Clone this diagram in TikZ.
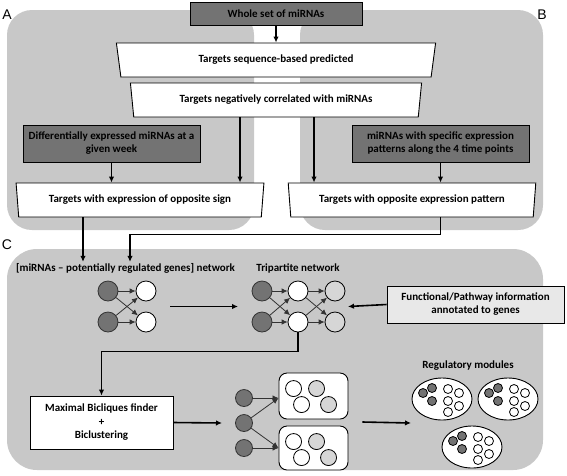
\documentclass[tikz,border=0pt]{standalone}
\usepackage{fontspec}
\setmainfont{Carlito}
\newfontfamily\labfont{Liberation Sans}
\usetikzlibrary{arrows.meta,shapes.geometric,calc}
\definecolor{panelgray}{RGB}{200,200,200}
\definecolor{boxgray}{RGB}{115,115,115}
\definecolor{dotgray}{RGB}{214,214,214}
\definecolor{funcgray}{RGB}{232,232,232}
\definecolor{edgegray}{RGB}{50,50,50}
\begin{document}
\begin{tikzpicture}[x=1pt,y=-1pt,
  txt/.style={font=\fontsize{11}{13}\selectfont\bfseries},
  panel/.style={fill=panelgray,draw=none,rounded corners=25pt},
  darkbox/.style={txt,draw=black,line width=0.9pt,fill=boxgray,align=center,inner sep=0pt},
  whitebox/.style={txt,draw=black,line width=0.9pt,fill=white,align=center,inner sep=0pt},
  trap/.style={txt,draw=black,line width=0.9pt,fill=white,trapezium,shape border rotate=180,trapezium stretches=true,inner sep=0pt},
  conn/.style={line width=1.6pt,-{Latex[length=6pt,width=5.5pt]}},
  netedge/.style={line width=0.8pt,draw=edgegray,-{Latex[length=6pt,width=5.5pt]}},
  mir/.style={circle,draw=black!80,line width=0.8pt,fill=boxgray,minimum size=20pt,inner sep=0pt},
  gene/.style={circle,draw=black,line width=0.8pt,fill=white,minimum size=20pt,inner sep=0pt},
  ann/.style={circle,draw=black,line width=0.8pt,fill=dotgray,minimum size=20pt,inner sep=0pt},
  letter/.style={font=\labfont\fontsize{14}{14}\selectfont,inner sep=0pt},
  module/.style={ellipse,draw=black,line width=0.9pt,fill=white,minimum width=60pt,minimum height=42pt,inner sep=0pt},
  bic/.style={rectangle,rounded corners=8pt,draw=black,line width=0.9pt,fill=white,minimum width=69pt,inner sep=0pt},
]
\useasboundingbox (0,0) rectangle (567,475);
\fill[white] (0,0) rectangle (567,475);

% panels
\fill[panel] (7,10) rectangle (254,230);
\fill[panel] (300,10) rectangle (543,230);
\fill[panel,rounded corners=30pt] (7,249) rectangle (543,470);

\node[letter] (labA) at (7,15) {A};
\node[letter] (labB) at (542,15) {B};
\node[letter] (labC) at (7,245) {C};

% top part
\node[darkbox,minimum width=172pt,minimum height=23pt] (whole) at (276,13.5) {Whole set of miRNAs};
\node[trap,minimum width=320pt,minimum height=34pt,trapezium angle=76.8] (t1) at (276,60) {Targets sequence-based predicted};
\node[trap,minimum width=292pt,minimum height=34pt,trapezium angle=76.8] (t2) at (276,100) {Targets negatively correlated with miRNAs};
\node[darkbox,minimum width=177pt,minimum height=37pt] (b1) at (111.5,143.5) {Differentially expressed miRNAs at a\\given week};
\node[darkbox,minimum width=177pt,minimum height=37pt] (b2) at (440.5,143.5) {miRNAs with specific expression\\patterns along the 4 time points};
\node[trap,minimum width=248pt,minimum height=34pt,trapezium angle=78.4] (t3) at (140,200) {Targets with expression of opposite sign};
\node[trap,minimum width=248pt,minimum height=34pt,trapezium angle=78.4] (t4) at (412,200) {Targets with opposite expression pattern};

\coordinate (xa) at (240,0);
\coordinate (xb) at (314,0);
\coordinate (xl) at (83,0);
\coordinate (xr) at (130,0);

\draw[conn] (whole.south) -- (whole.south |- t1.north);
\draw[conn] (t2.south -| xa) -- (t3.north -| xa);
\draw[conn] (t2.south -| xb) -- (t4.north -| xb);
\draw[conn] (b1.south) -- (b1.south |- t3.north);
\draw[conn] (b2.south) -- (b2.south |- t4.north);

% panel C
\node[txt,inner sep=1pt] (lab1) at (125.5,268) {[miRNAs -- potentially regulated genes] network};
\node[txt,inner sep=1pt] (lab2) at (298,268) {Tripartite network};

\draw[conn] (t3.south -| xl) -- (lab1.north -| xl);
\draw[conn] (t4.south -| b2.south) -- ++(0,17) -| (lab1.north -| xr);

% network 1
\node[mir] (m1) at (108,291) {};
\node[mir] (m2) at (108,322) {};
\node[gene] (g1) at (146,291) {};
\node[gene] (g2) at (146,322) {};
\draw[netedge] (m1) -- (g1);
\draw[netedge] (m1) -- (g2);
\draw[netedge] (m2) -- (g1);
\draw[netedge] (m2) -- (g2);

% tripartite
\node[mir] (a1) at (262,291) {};
\node[mir] (a2) at (262,322) {};
\node[gene] (w1) at (298,291) {};
\node[gene] (w2) at (298,322) {};
\node[ann] (d1) at (335,291) {};
\node[ann] (d2) at (335,322) {};
\draw[netedge] (a1) -- (w1);
\draw[netedge] (a1) -- (w2);
\draw[netedge] (a2) -- (w1);
\draw[netedge] (a2) -- (w2);
\draw[netedge] (w1) -- (d1);
\draw[netedge] (w1) -- (d2);
\draw[netedge] (w2) -- (d1);
\draw[netedge] (w2) -- (d2);

\draw[conn] ($(g1)!0.5!(g2)+(24,0)$) -- ($(a1)!0.5!(a2)+(-24,0)$);

\node[whitebox,fill=funcgray,minimum width=177pt,minimum height=37pt] (func) at (475.5,304.5) {Functional/Pathway information\\annotated to genes};
\draw[conn] (func.west) -- ($(d1)!0.5!(d2)+(13,0)$);

% bicliques
\node[whitebox,font=\fontsize{11}{13.5}\selectfont\bfseries,minimum width=143pt,minimum height=53pt] (maxb) at (101.5,422.5) {Maximal Bicliques finder\\+\\Biclustering};
\draw[conn] (w2.south) -- ++(0,19) -| (maxb.north);

\node[mir,minimum size=17pt] (c1) at (244,398) {};
\node[mir,minimum size=17pt] (c2) at (244,423) {};
\node[mir,minimum size=17pt] (c3) at (244,448) {};
\draw[conn] (maxb.east) -- ($(c2)+(-22,0)$);

\node[bic,minimum height=46pt] (bx1) at (313.5,396) {};
\node[bic,minimum height=44pt] (bx2) at (313.5,448) {};
\draw[netedge] (c1) -- (bx1.west |- c1);
\draw[netedge] (c2) -- (bx1.west |- c1);
\draw[netedge] (c3) -- (bx2.west |- c3);
\draw[netedge] (c2) -- (bx2.west |- c3);

\foreach \b in {bx1,bx2}{
  \draw[line width=0.8pt,fill=white] ($(\b.north west)+(15,16)$) circle[radius=8pt];
  \draw[line width=0.8pt,fill=dotgray] ($(\b.north west)+(38,16)$) circle[radius=8pt];
  \draw[line width=0.8pt,fill=white] ($(\b.north west)+(23,32)$) circle[radius=8pt];
  \draw[line width=0.8pt,fill=dotgray] ($(\b.north west)+(50,32)$) circle[radius=8pt];
}

% modules
\node[txt] (lab3) at (468,366) {Regulatory modules};
\node[module] (e1) at (442,399) {};
\node[module] (e2) at (508,399) {};
\node[module] (e3) at (472,447) {};
\coordinate (arrE) at (411,423);
\draw[conn] ($(bx1.east)!0.5!(bx2.east)+(14,0)$) -- (arrE);

\foreach \e in {e1,e2,e3}{
  \foreach \dx/\dy in {-19/-6,-10/-11,-10/2}
    \draw[line width=0.8pt,fill=boxgray] ($(\e)+(\dx,\dy)$) circle[radius=4.5pt];
  \foreach \dx/\dy in {6/-10,17/-6,6/2,17/7,6/13}
    \draw[line width=0.8pt,fill=white] ($(\e)+(\dx,\dy)$) circle[radius=4.5pt];
}
\end{tikzpicture}
\end{document}
